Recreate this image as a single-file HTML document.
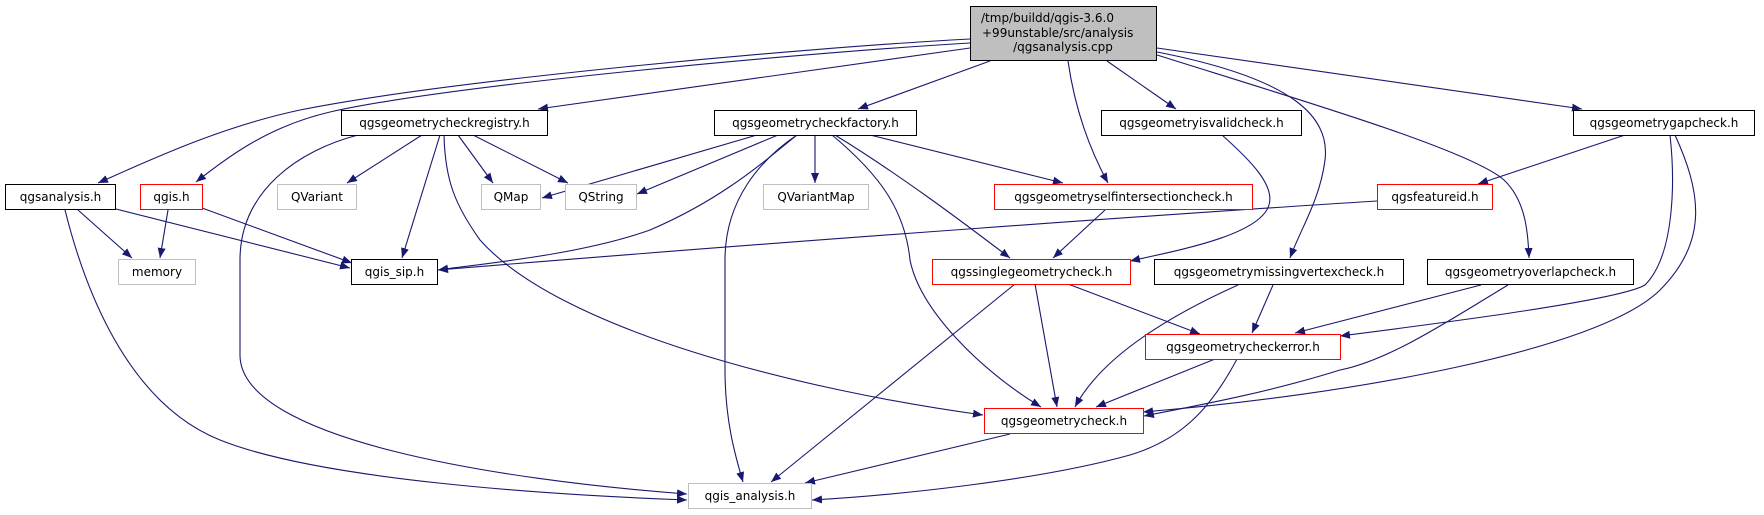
<!DOCTYPE html>
<html><head><meta charset="utf-8"><style>
html,body{margin:0;padding:0;background:#fff;}
svg{display:block;}
text{font-family:"DejaVu Sans","Liberation Sans",sans-serif;font-size:12px;fill:#000;}
</style></head><body>
<svg width="1764" height="515" viewBox="0 0 1764 515" xmlns="http://www.w3.org/2000/svg">
<defs>
<marker id="a" markerWidth="10" markerHeight="8" refX="10" refY="4" orient="auto" markerUnits="userSpaceOnUse">
<path d="M0,0 L10,4 L0,8 Z" fill="#191970"/>
</marker>
</defs>
<g fill="none" stroke="#191970" stroke-width="1.1" marker-end="url(#a)">
<!-- root edges -->
<path d="M970,39 C800,48 450,80 300,110 C220,127 150,160 98,183"/>
<path d="M970,43 C800,53 450,85 330,112 C270,126 230,155 196,182"/>
<path d="M970,48 L538,109"/>
<path d="M990,61 L858,109"/>
<path d="M1068,61 C1075,110 1090,150 1108,183"/>
<path d="M1107,61 L1176,109"/>
<path d="M1157,48 L1582,109"/>
<path d="M1157,52 C1300,80 1330,120 1325,160 C1320,200 1300,230 1290,258"/>
<path d="M1157,55 C1300,100 1470,150 1504,180 C1525,200 1528,230 1529,258"/>
<!-- registry -->
<path d="M422,135 L347,183"/>
<path d="M458,135 L493,183"/>
<path d="M473,135 L568,183"/>
<path d="M440,135 L402,258"/>
<path d="M444,135 C445,180 455,205 480,240 C560,330 800,390 983,415"/>
<path d="M358,135 C300,150 240,190 240,260 L240,355 C240,440 500,480 687,494"/>
<!-- qgsanalysis -->
<path d="M78,210 L132,258"/>
<path d="M116,209 L350,268"/>
<path d="M65,210 C80,270 120,400 220,440 C320,480 550,495 687,500"/>
<!-- qgis.h -->
<path d="M168,210 L160,258"/>
<path d="M202,208 L352,263"/>
<!-- factory -->
<path d="M757,135 L542,198"/>
<path d="M778,135 L637,194"/>
<path d="M797,135 C760,165 720,200 650,230 C580,255 480,264 438,270"/>
<path d="M815,135 L815,183"/>
<path d="M870,135 L1063,183"/>
<path d="M835,135 C900,175 960,220 1010,258"/>
<path d="M832,135 C880,175 905,210 910,260 C920,310 980,370 1041,407"/>
<path d="M797,135 C760,160 725,200 725,260 L725,370 C725,420 735,455 743,482"/>
<!-- selfintersection -->
<path d="M1105,210 L1053,258"/>
<!-- isvalid -->
<path d="M1222,135 C1250,160 1275,185 1269,205 C1260,235 1180,250 1130,261"/>
<!-- gapcheck -->
<path d="M1625,135 L1478,184"/>
<path d="M1670,135 C1675,180 1675,255 1645,285 C1620,300 1450,322 1340,336"/>
<path d="M1675,135 C1700,190 1710,240 1660,290 C1600,350 1350,395 1143,412"/>
<!-- qgsfeatureid -->
<path d="M1377,201 C1200,212 800,240 438,270"/>
<!-- singlegeometry -->
<path d="M1015,284 L771,482"/>
<path d="M1035,284 L1057,407"/>
<path d="M1068,284 L1200,334"/>
<!-- missingvertex -->
<path d="M1273,285 L1252,333"/>
<path d="M1238,285 C1160,320 1100,360 1075,407"/>
<!-- overlapcheck -->
<path d="M1481,285 L1295,333"/>
<path d="M1508,285 C1450,320 1390,360 1340,370 C1270,392 1200,405 1144,416"/>
<!-- checkerror -->
<path d="M1215,359 L1096,407"/>
<path d="M1237,359 C1210,410 1180,440 1130,455 C1040,480 900,495 812,500"/>
<!-- geometrycheck -->
<path d="M1010,434 L805,483"/>
</g>
<g stroke-width="1">
<rect x="970.5" y="6.5" width="186" height="54" fill="#bfbfbf" stroke="#000"/>
<text x="981" y="22">/tmp/buildd/qgis-3.6.0</text>
<text x="982" y="37">+99unstable/src/analysis</text>
<text x="1063" y="51" text-anchor="middle">/qgsanalysis.cpp</text>

<rect x="341.5" y="110.5" width="206" height="25" fill="#fff" stroke="#000"/>
<text x="444.5" y="127" text-anchor="middle">qgsgeometrycheckregistry.h</text>
<rect x="714.5" y="110.5" width="202" height="25" fill="#fff" stroke="#000"/>
<text x="815.5" y="127" text-anchor="middle">qgsgeometrycheckfactory.h</text>
<rect x="1101.5" y="110.5" width="200" height="25" fill="#fff" stroke="#000"/>
<text x="1201.5" y="127" text-anchor="middle">qgsgeometryisvalidcheck.h</text>
<rect x="1573.5" y="110.5" width="181" height="25" fill="#fff" stroke="#000"/>
<text x="1664" y="127" text-anchor="middle">qgsgeometrygapcheck.h</text>

<rect x="5.5" y="184.5" width="110" height="25" fill="#fff" stroke="#000"/>
<text x="60.5" y="201" text-anchor="middle">qgsanalysis.h</text>
<rect x="140.5" y="184.5" width="62" height="25" fill="#fff" stroke="#f00"/>
<text x="171.5" y="201" text-anchor="middle">qgis.h</text>
<rect x="277.5" y="184.5" width="79" height="25" fill="#fff" stroke="#bfbfbf"/>
<text x="317" y="201" text-anchor="middle">QVariant</text>
<rect x="481.5" y="184.5" width="59" height="25" fill="#fff" stroke="#bfbfbf"/>
<text x="511" y="201" text-anchor="middle">QMap</text>
<rect x="565.5" y="184.5" width="71" height="25" fill="#fff" stroke="#bfbfbf"/>
<text x="601" y="201" text-anchor="middle">QString</text>
<rect x="763.5" y="184.5" width="105" height="25" fill="#fff" stroke="#bfbfbf"/>
<text x="816" y="201" text-anchor="middle">QVariantMap</text>
<rect x="994.5" y="184.5" width="258" height="25" fill="#fff" stroke="#f00"/>
<text x="1123.5" y="201" text-anchor="middle">qgsgeometryselfintersectioncheck.h</text>
<rect x="1377.5" y="184.5" width="115" height="25" fill="#fff" stroke="#f00"/>
<text x="1435" y="201" text-anchor="middle">qgsfeatureid.h</text>

<rect x="118.5" y="259.5" width="77" height="25" fill="#fff" stroke="#bfbfbf"/>
<text x="157" y="276" text-anchor="middle">memory</text>
<rect x="351.5" y="259.5" width="86" height="25" fill="#fff" stroke="#000"/>
<text x="394.5" y="276" text-anchor="middle">qgis_sip.h</text>
<rect x="932.5" y="259.5" width="198" height="25" fill="#fff" stroke="#f00"/>
<text x="1031.5" y="276" text-anchor="middle">qgssinglegeometrycheck.h</text>
<rect x="1154.5" y="259.5" width="249" height="25" fill="#fff" stroke="#000"/>
<text x="1279" y="276" text-anchor="middle">qgsgeometrymissingvertexcheck.h</text>
<rect x="1427.5" y="259.5" width="206" height="25" fill="#fff" stroke="#000"/>
<text x="1530.5" y="276" text-anchor="middle">qgsgeometryoverlapcheck.h</text>

<rect x="1145.5" y="334.5" width="195" height="25" fill="#fff" stroke="#f00"/>
<text x="1243" y="351" text-anchor="middle">qgsgeometrycheckerror.h</text>
<rect x="984.5" y="408.5" width="159" height="25" fill="#fff" stroke="#f00"/>
<text x="1064" y="425" text-anchor="middle">qgsgeometrycheck.h</text>
<rect x="688.5" y="483.5" width="123" height="25" fill="#fff" stroke="#bfbfbf"/>
<text x="750" y="500" text-anchor="middle">qgis_analysis.h</text>
</g>
</svg>
</body></html>
